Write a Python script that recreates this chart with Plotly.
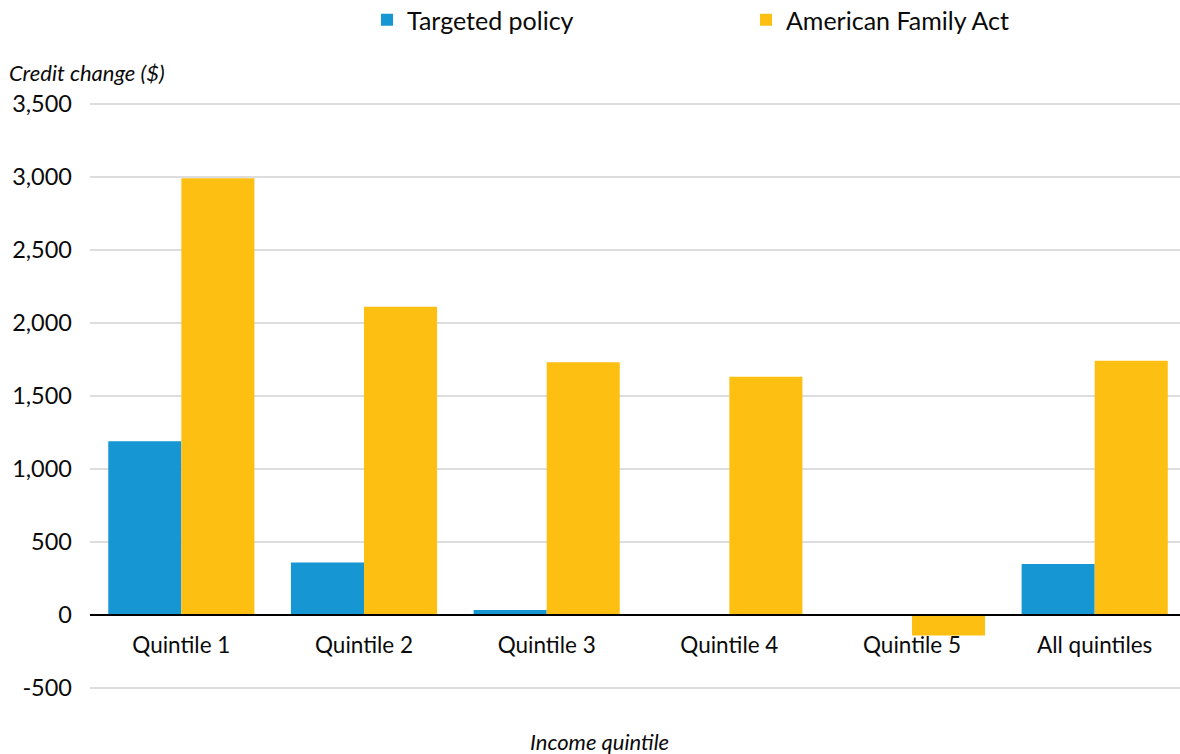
import plotly.graph_objects as go

# Average child tax credit change by income quintile
categories = ["Quintile 1", "Quintile 2", "Quintile 3", "Quintile 4", "Quintile 5", "All quintiles"]
targeted_policy = [1190, 360, 35, 3, 0, 350]
american_family_act = [2990, 2110, 1730, 1630, -140, 1740]
y_tick_values = [-500, 0, 500, 1000, 1500, 2000, 2500, 3000, 3500]
y_tick_labels = ["-500", "0", "500", "1,000", "1,500", "2,000", "2,500", "3,000", "3,500"]

BLUE = "#1696D2"
YELLOW = "#FDBF11"
FONT = "Lato"
TEXT = "#0a0a0a"

fig = go.Figure()
fig.add_trace(go.Bar(name="Targeted policy", x=categories, y=targeted_policy,
                     marker=dict(color=BLUE, line=dict(width=0))))
fig.add_trace(go.Bar(name="American Family Act", x=categories, y=american_family_act,
                     marker=dict(color=YELLOW, line=dict(width=0))))

fig.update_layout(
    width=1180, height=754,
    margin=dict(l=90, r=0, t=89, b=44),
    paper_bgcolor="white", plot_bgcolor="white",
    barmode="group", bargap=0.2, bargroupgap=0,
    font=dict(family=FONT, size=22, color=TEXT),
    showlegend=True,
    legend=dict(orientation="h", xref="container", yref="container",
                x=0.311, xanchor="left", y=1 - 20 / 754, yanchor="middle",
                font=dict(size=25, color=TEXT),
                entrywidth=334, entrywidthmode="pixels",
                itemclick=False, bgcolor="rgba(0,0,0,0)"),
    xaxis=dict(range=[-0.5, 5.467], anchor="free", position=650 / 4250,
               showline=True, linecolor="black", linewidth=2,
               showgrid=False, ticks="", ticklabelstandoff=10,
               tickfont=dict(size=22.5, color=TEXT)),
    yaxis=dict(range=[-650, 3600], tickvals=y_tick_values, ticktext=y_tick_labels,
               showgrid=True, gridcolor="#DEDDDD", gridwidth=2, zeroline=False,
               ticks="", ticklabelstandoff=17, showline=False,
               tickfont=dict(size=23.5, color=TEXT)),
)

# axis titles placed in pixel terms relative to the plot area (1090 x 621)
fig.add_annotation(text="<i>Credit change ($)</i>", xref="paper", yref="paper",
                   x=-83 / 1090, y=1 + 17 / 621, showarrow=False,
                   xanchor="left", yanchor="middle",
                   font=dict(size=22, color=TEXT))
fig.add_annotation(text="<i>Income quintile</i>", xref="paper", yref="paper",
                   x=(599 - 90) / 1090, y=-(741 - 710) / 621, showarrow=False,
                   xanchor="center", yanchor="middle",
                   font=dict(size=22, color=TEXT))

fig.write_html("out.html")
